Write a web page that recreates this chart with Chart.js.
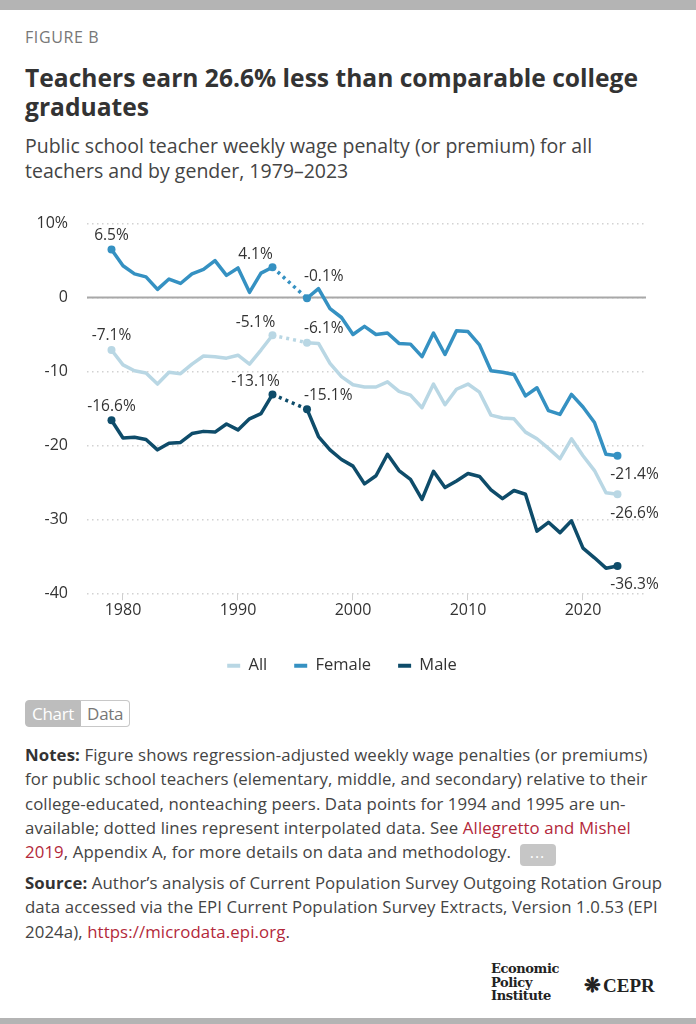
<!DOCTYPE html>
<html>
<head>
<meta charset="utf-8">
<script src="https://cdn.jsdelivr.net/npm/chart.js@4.4.0/dist/chart.umd.min.js"></script>
<style>
  body { margin: 0; width: 696px; height: 1024px; background: #fff; font-family: "Open Sans", sans-serif; color: #333; position: relative; overflow: hidden; }
  .bar-top { position: absolute; left: 0; top: 0; width: 696px; height: 10px; background: #b4b4b4; }
  .bar-bottom { position: absolute; left: 0; top: 1018px; width: 696px; height: 6px; background: #b4b4b4; }
  .fig { position: absolute; left: 25px; top: 28px; font-size: 16px; line-height: 18px; color: #777; letter-spacing: 0.6px; }
  h1 { position: absolute; left: 25px; top: 63px; margin: 0; font-size: 24.6px; line-height: 29px; font-weight: 700; color: #333; }
  .sub { position: absolute; left: 25px; top: 133px; font-size: 19.5px; line-height: 25px; color: #444; }
  #wrap { position: absolute; left: 0; top: 195px; width: 696px; height: 489px; }
  .toggle { position: absolute; left: 25px; top: 700px; height: 27px; display: flex; font-size: 17px; line-height: 25px; letter-spacing: -0.3px; }
  .toggle span { padding: 0 6px; border: 1px solid #c8c8c8; }
  .toggle .on { background: #bdbdbd; color: #fff; border-color: #bdbdbd; border-radius: 4px 0 0 4px; }
  .toggle .off { background: #fff; color: #777; border-left: none; border-radius: 0 4px 4px 0; }
  .notes { position: absolute; left: 25px; top: 743px; font-size: 16.8px; line-height: 24.3px; color: #444; white-space: nowrap; letter-spacing: 0.1px; }
  .source { top: 871px; }
  .notes b { color: #333; }
  .notes a { color: #b3283a; text-decoration: none; }
  .more { display: inline-block; width: 36px; height: 22px; background: #c6c6c6; border-radius: 4px; vertical-align: 0; margin-left: 4px; color: #fff; text-align: center; line-height: 16px; font-size: 16px; letter-spacing: 1px; }
  .epi { position: absolute; left: 491px; top: 962px; font-family: "DejaVu Serif", serif; font-weight: 700; font-size: 13px; line-height: 13.5px; color: #222; letter-spacing: -0.4px; }
  .cepr { position: absolute; left: 584px; top: 973px; font-family: "Liberation Serif", serif; font-weight: 700; font-size: 19px; color: #222; }
  .cepr i { font-style: normal; font-size: 20px; margin-right: 2px; }
</style>
</head>
<body>
<div class="bar-top"></div>
<div class="fig">FIGURE B</div>
<h1>Teachers earn 26.6% less than comparable college<br>graduates</h1>
<div class="sub">Public school teacher weekly wage penalty (or premium) for all<br>teachers and by gender, 1979–2023</div>

<div id="wrap"><canvas id="penalty-chart"></canvas></div>

<div class="toggle"><span class="on">Chart</span><span class="off">Data</span></div>

<div class="notes"><b>Notes:</b> Figure shows regression-adjusted weekly wage penalties (or premiums)<br>for public school teachers (elementary, middle, and secondary) relative to their<br>college-educated, nonteaching peers. Data points for 1994 and 1995 are un-<br>available; dotted lines represent interpolated data. See <a>Allegretto and Mishel</a><br><a>2019</a>, Appendix A, for more details on data and methodology. <span class="more">...</span></div>
<div class="notes source"><b>Source:</b> Author’s analysis of Current Population Survey Outgoing Rotation Group<br>data accessed via the EPI Current Population Survey Extracts, Version 1.0.53 (EPI<br>2024a), <a>https://microdata.epi.org</a>.</div>

<div class="epi">Economic<br>Policy<br>Institute</div>
<div class="cepr"><i>❋</i>CEPR</div>
<div class="bar-bottom"></div>

<script>
// Years with data (1994 and 1995 are unavailable)
const years = [1979, 1980, 1981, 1982, 1983, 1984, 1985, 1986, 1987, 1988, 1989, 1990, 1991, 1992, 1993,
    1996, 1997, 1998, 1999, 2000, 2001, 2002, 2003, 2004, 2005, 2006, 2007, 2008, 2009, 2010,
    2011, 2012, 2013, 2014, 2015, 2016, 2017, 2018, 2019, 2020, 2021, 2022, 2023];

// Wage penalty (%) by group
const allTeachers = [-7.1, -9.1, -9.9, -10.2, -11.7, -10.1, -10.3, -9.0, -7.9, -8.0, -8.2, -7.8, -9.0, -7.1, -5.1,
    -6.1, -6.2, -8.9, -10.7, -11.8, -12.1, -12.1, -11.4, -12.7, -13.2, -14.9, -11.7, -14.5, -12.4, -11.7,
    -12.8, -15.9, -16.3, -16.4, -18.2, -19.1, -20.4, -21.8, -19.1, -21.4, -23.4, -26.4, -26.6];
const female = [6.5, 4.3, 3.2, 2.8, 1.1, 2.5, 1.9, 3.2, 3.8, 5.0, 3.0, 4.0, 0.7, 3.3, 4.1,
    -0.1, 1.2, -1.5, -2.7, -5.0, -3.9, -5.0, -4.8, -6.2, -6.3, -8.0, -4.8, -7.7, -4.5, -4.6,
    -6.4, -9.9, -10.1, -10.4, -13.3, -12.2, -15.3, -15.8, -13.1, -14.8, -16.9, -21.2, -21.4];
const male = [-16.6, -19.0, -18.9, -19.2, -20.6, -19.7, -19.6, -18.4, -18.1, -18.2, -17.1, -17.9, -16.4, -15.7, -13.1,
    -15.1, -18.8, -20.6, -21.9, -22.8, -25.2, -24.1, -21.2, -23.4, -24.6, -27.3, -23.5, -25.7, -24.8, -23.8,
    -24.2, -26.0, -27.2, -26.1, -26.6, -31.6, -30.4, -31.8, -30.2, -33.9, -35.2, -36.6, -36.3];

const seriesNames = ['All', 'Female', 'Male'];
const labeledYears = [1979, 1993, 1996, 2023];
const xTicks = [1980, 1990, 2000, 2010, 2020];
const yTicks = [10, 0, -10, -20, -30, -40];

const colors = ['#b9d7e4', '#3591c2', '#0e4c6a'];
const font = '"Open Sans", sans-serif';

function makeSeries(label, values, color) {
    return {
        label: label,
        data: years.map((yr, i) => ({ x: yr, y: values[i] })),
        borderColor: color,
        backgroundColor: color,
        borderWidth: 3.5,
        borderJoinStyle: 'round',
        tension: 0,
        fill: false,
        pointRadius: c => labeledYears.includes(years[c.dataIndex]) ? 4 : 0,
        pointHoverRadius: 0,
        pointBorderWidth: 0,
        pointBackgroundColor: color,
        // dotted segment across the missing years
        segment: {
            borderDash: c => (c.p1.parsed.x - c.p0.parsed.x > 1 ? [3, 4] : undefined)
        }
    };
}

// Solid zero line
const zeroLine = {
    id: 'zeroLine',
    beforeDatasetsDraw(chart) {
        const { ctx, chartArea: a, scales: { y } } = chart;
        const py = y.getPixelForValue(0);
        ctx.save();
        ctx.strokeStyle = '#a8a8a8';
        ctx.lineWidth = 2;
        ctx.beginPath();
        ctx.moveTo(a.left, py);
        ctx.lineTo(a.right, py);
        ctx.stroke();
        ctx.restore();
    }
};

// Value labels at start, gap and end points
const pointLabels = {
    id: 'pointLabels',
    afterDatasetsDraw(chart) {
        const { ctx, scales: { x, y } } = chart;
        ctx.save();
        ctx.font = '15.5px ' + font;
        ctx.fillStyle = '#333';
        ctx.textBaseline = 'middle';
        chart.data.datasets.forEach((ds, di) => {
            labeledYears.forEach(yr => {
                const v = ds.data[years.indexOf(yr)].y;
                const px = x.getPixelForValue(yr);
                const py = y.getPixelForValue(v);
                let tx = px, ty = py - 14, align = 'center';
                if (yr === 1993) { tx = px - 17; ty = py - 13; }
                if (yr === 1996) { tx = px - 3; ty = py - (di === 1 ? 22 : 14); align = 'left'; }
                if (yr === 2023) { tx = px + 17; ty = py + 19; }
                ctx.textAlign = align;
                ctx.fillText(v.toFixed(1) + '%', tx, ty);
            });
        });
        ctx.restore();
    }
};

const ctx = document.getElementById('penalty-chart');
new Chart(ctx, {
    type: 'line',
    data: {
        datasets: [
            makeSeries(seriesNames[0], allTeachers, colors[0]),
            makeSeries(seriesNames[1], female, colors[1]),
            makeSeries(seriesNames[2], male, colors[2])
        ]
    },
    options: {
        responsive: true,
        maintainAspectRatio: false,
        animation: false,
        layout: { padding: { top: 9, right: 12, left: 0, bottom: 0 } },
        plugins: {
            tooltip: { enabled: false },
            legend: {
                position: 'bottom',
                labels: {
                    boxWidth: 13,
                    boxHeight: 4,
                    padding: 27,
                    color: '#333',
                    font: { family: font, size: 16.5 },
                    generateLabels: c => Chart.defaults.plugins.legend.labels.generateLabels(c)
                        .map(l => ({ ...l, lineWidth: 0, lineDash: [] }))
                }
            }
        },
        scales: {
            x: {
                type: 'linear',
                min: 1976.87,
                max: 2025.48,
                afterBuildTicks: s => { s.ticks = xTicks.map(v => ({ value: v })); },
                afterFit: s => { s.height += 9; },
                grid: { drawOnChartArea: false, drawTicks: true, tickLength: 7, tickColor: '#cfcfcf', tickWidth: 1 },
                border: { display: false },
                ticks: {
                    padding: 1,
                    color: '#333',
                    font: { family: font, size: 16 },
                    callback: v => String(v)
                }
            },
            y: {
                min: -40,
                max: 10,
                afterBuildTicks: s => { s.ticks = yTicks.map(v => ({ value: v })); },
                afterFit: s => { s.width = 87; },
                grid: { color: '#d2d2d2', lineWidth: 1.5, drawTicks: false },
                border: { display: false, dash: [1.5, 3.5] },
                ticks: {
                    padding: 19,
                    color: '#333',
                    font: { family: font, size: 16 },
                    callback: v => (v === 10 ? '10%' : String(v))
                }
            },
            // empty right-hand spacer so the plot ends where the original does
            spacer: {
                position: 'right',
                grid: { display: false },
                border: { display: false },
                ticks: { display: false },
                afterFit: s => { s.width = 38; }
            }
        }
    },
    plugins: [zeroLine, pointLabels]
});
</script>
</body>
</html>
